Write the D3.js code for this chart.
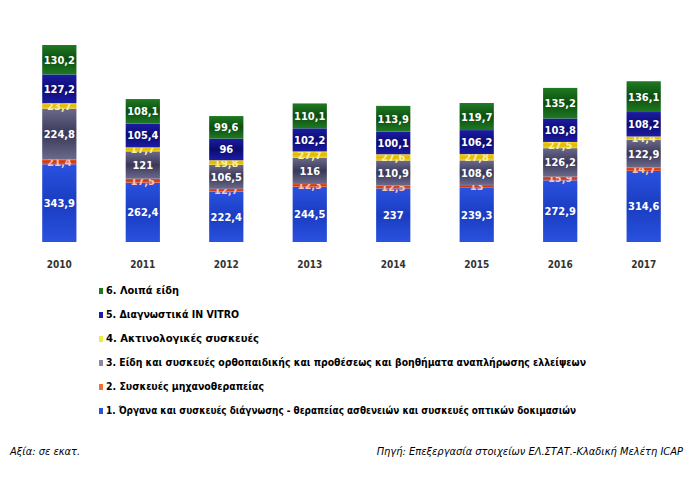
<!DOCTYPE html>
<html>
<head>
<meta charset="utf-8">
<script src="https://cdn.jsdelivr.net/npm/d3@7"></script>
<style>
  body { margin: 0; background: #fff; }
  text { font-family: "DejaVu Sans Condensed", "Liberation Sans Narrow", "Liberation Sans", sans-serif; }
</style>
</head>
<body>
<div id="chart"></div>
<script>
// values in εκατ. ευρώ
var years = ["2010", "2011", "2012", "2013", "2014", "2015", "2016", "2017"];
var s1 = [343.9, 262.4, 222.4, 244.5, 237, 239.3, 272.9, 314.6];
var s2 = [21.4, 17.5, 12.7, 12.3, 12.5, 13, 15.9, 14.7];
var s3 = [224.8, 121, 106.5, 116, 110.9, 108.6, 126.2, 122.9];
var s4 = [23.7, 17.7, 19.8, 27.7, 27.6, 27.8, 27.5, 14.4];
var s5 = [127.2, 105.4, 96, 102.2, 100.1, 106.2, 103.8, 108.2];
var s6 = [130.2, 108.1, 99.6, 110.1, 113.9, 119.7, 135.2, 136.1];
var seriesNames = [
  "1. Όργανα και συσκευές διάγνωσης - θεραπείας ασθενειών και συσκευές οπτικών δοκιμασιών",
  "2. Συσκευές μηχανοθεραπείας",
  "3. Είδη και συσκευές ορθοπαιδικής και προθέσεως και βοηθήματα αναπλήρωσης ελλείψεων",
  "4. Ακτινολογικές συσκευές",
  "5. Διαγνωστικά IN VITRO",
  "6. Λοιπά είδη"
];
var seriesValues = [s1, s2, s3, s4, s5, s6];
var colors = ["#2a52e0", "#e8582a", "#6c6a8c", "#f2d21e", "#1c1ca6", "#1f7a22"];
var dark = ["#1a3cc0", "#c83a18", "#3a3858", "#e0b800", "#0c0c70", "#0c4e10"];

var W = 690, H = 493;
var svg = d3.select("#chart").append("svg").attr("width", W).attr("height", H);

var defs = svg.append("defs");
colors.forEach(function (c, i) {
  var g = defs.append("linearGradient").attr("id", "g" + i)
    .attr("x1", 0).attr("y1", 0).attr("x2", 0).attr("y2", 1);
  g.append("stop").attr("offset", "0%").attr("stop-color", c);
  g.append("stop").attr("offset", "50%").attr("stop-color", dark[i]);
  g.append("stop").attr("offset", "100%").attr("stop-color", c);
});

var x = d3.scaleBand().domain(years).range([18, 685]).paddingInner(0.59).paddingOuter(0.29);
var y = d3.scaleLinear().domain([0, 871.2]).range([242, 45]);

var table = years.map(function (yr, i) {
  var o = { year: yr };
  seriesValues.forEach(function (s, k) { o["s" + k] = s[i]; });
  return o;
});
var keys = seriesValues.map(function (s, k) { return "s" + k; });
var stacked = d3.stack().keys(keys)(table);

var layers = svg.selectAll("g.layer").data(stacked).enter().append("g")
  .attr("class", "layer")
  .attr("fill", function (d, i) { return "url(#g" + i + ")"; });

layers.selectAll("rect").data(function (d) { return d; }).enter().append("rect")
  .attr("x", function (d) { return x(d.data.year); })
  .attr("width", x.bandwidth())
  .attr("y", function (d) { return y(d[1]); })
  .attr("height", function (d) { return y(d[0]) - y(d[1]); });

var fmt = function (v) { return String(v).replace(".", ","); };
layers.each(function (layer, li) {
  d3.select(this).selectAll("text").data(layer).enter().append("text")
    .attr("x", function (d) { return x(d.data.year) + x.bandwidth() / 2; })
    .attr("y", function (d) { return (y(d[0]) + y(d[1])) / 2 + 4; })
    .attr("text-anchor", "middle")
    .attr("font-size", 11)
    .attr("font-weight", "bold")
    .attr("fill", li === 3 ? "#f8f0a0" : (li === 1 ? "#ffc0b0" : "#fff"))
    .text(function (d) { return fmt(d.data["s" + li]); });
});

var xAxis = svg.append("g").attr("transform", "translate(0,258)")
  .call(d3.axisBottom(x).tickSize(0));
xAxis.select(".domain").remove();
xAxis.selectAll("text").attr("font-size", 10).attr("fill", "#333")
  .attr("font-weight", "bold");

// legend, listed from 6 down to 1
var legendWidths = [470, 158, 480, 153, 133, 73];
var order = [5, 4, 3, 2, 1, 0];
var legend = svg.append("g");
order.forEach(function (k, r) {
  var ly = 294 + r * 24;
  legend.append("rect").attr("x", 99).attr("y", ly - 6).attr("width", 4).attr("height", 6)
    .attr("fill", k === 3 ? "#e6ee40" : (k === 2 ? "#8a8aa8" : (k === 1 ? "#f07030" : colors[k])));
  legend.append("text").attr("x", 106).attr("y", ly)
    .attr("font-size", 11).attr("fill", "#000").attr("font-weight", "bold")
    .attr("textLength", legendWidths[k]).attr("lengthAdjust", "spacingAndGlyphs")
    .text(seriesNames[k]);
});

svg.append("text").attr("x", 10).attr("y", 455)
  .attr("font-size", 11).attr("font-style", "italic").attr("fill", "#000")
  .text("Αξία: σε εκατ.");
svg.append("text").attr("x", 683).attr("y", 455).attr("text-anchor", "end")
  .attr("font-size", 11).attr("font-style", "italic").attr("fill", "#000")
  .text("Πηγή: Επεξεργασία στοιχείων ΕΛ.ΣΤΑΤ.-Κλαδική Μελέτη ICAP");
</script>
</body>
</html>
